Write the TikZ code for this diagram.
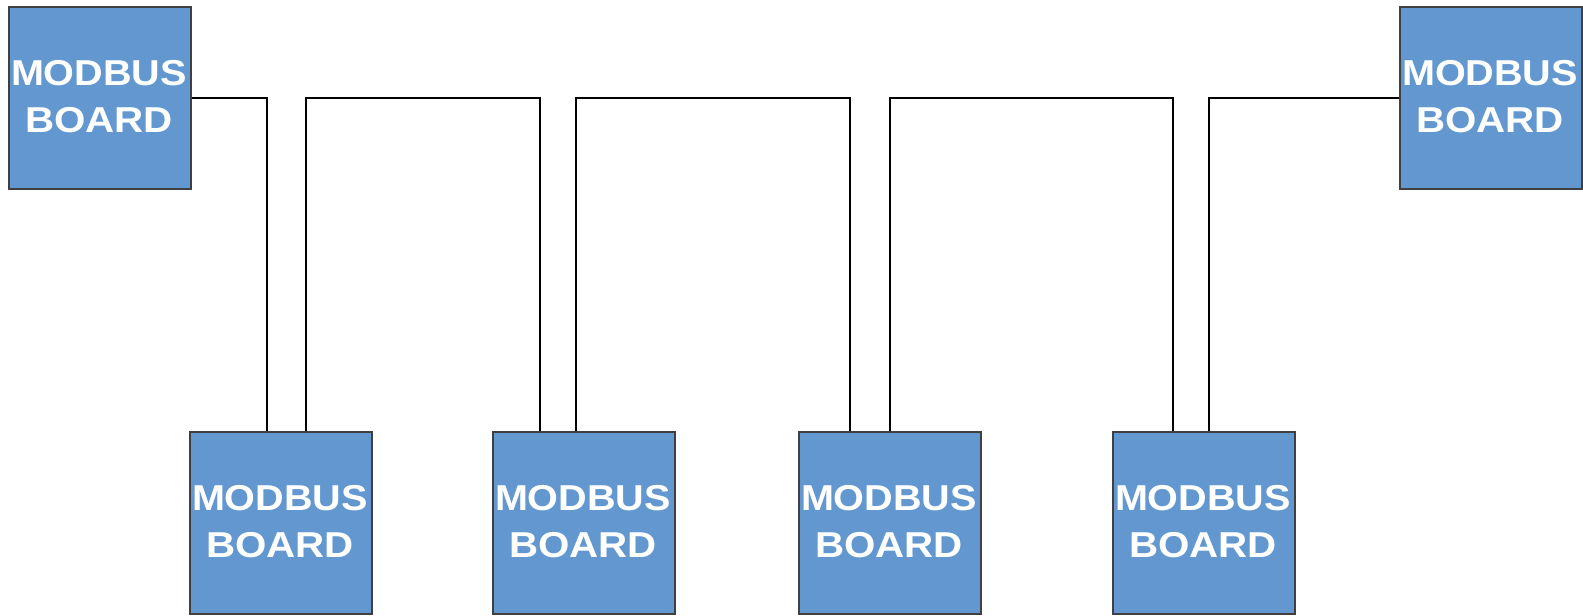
\documentclass[tikz,border=0pt]{standalone}
\usepackage{fontspec}
\usepackage{graphicx}
\setmainfont{Liberation Sans}
\definecolor{boardblue}{RGB}{98,151,208}
\definecolor{boardedge}{RGB}{64,64,64}
\tikzset{
  board/.style={draw=boardedge, line width=1.3pt, fill=boardblue, minimum width=182pt, minimum height=182pt, inner sep=0pt},
  boardlabel/.style={text=white, align=center, inner sep=0pt, font=\fontsize{36}{47}\selectfont\bfseries},
  wire/.style={draw=black, line width=2pt}
}
\newcommand{\boardtext}{\scalebox{1.1}[1]{MODBUS}\\\scalebox{1.12}[1]{BOARD}}
\begin{document}
\begin{tikzpicture}[x=1pt,y=-1pt]
\useasboundingbox[fill=white] (0,0) rectangle (1583,616);
\node[board] (tl) at (100,98) {};
\node[board] (tr) at (1491,98) {};
\node[board] (b1) at (281,523) {};
\node[board] (b2) at (584,523) {};
\node[board] (b3) at (890,523) {};
\node[board] (b4) at (1204,523) {};
\foreach \b in {tl,tr,b1,b2,b3,b4}
  \node[boardlabel] (\b-label) at ([xshift=-1pt,yshift=1pt]\b.center) {\boardtext};
\coordinate (bus) at (tl.east);
\draw[wire] (tl.east) -| ([xshift=-14pt]b1.north);
\draw[wire] ([xshift=25pt]b1.north) -- ([xshift=25pt]b1.north |- bus) -| ([xshift=-44pt]b2.north);
\draw[wire] ([xshift=-8pt]b2.north) -- ([xshift=-8pt]b2.north |- bus) -| ([xshift=-40pt]b3.north);
\draw[wire] (b3.north) -- (b3.north |- bus) -| ([xshift=-31pt]b4.north);
\draw[wire] ([xshift=5pt]b4.north) |- (tr.west);
\end{tikzpicture}
\end{document}
